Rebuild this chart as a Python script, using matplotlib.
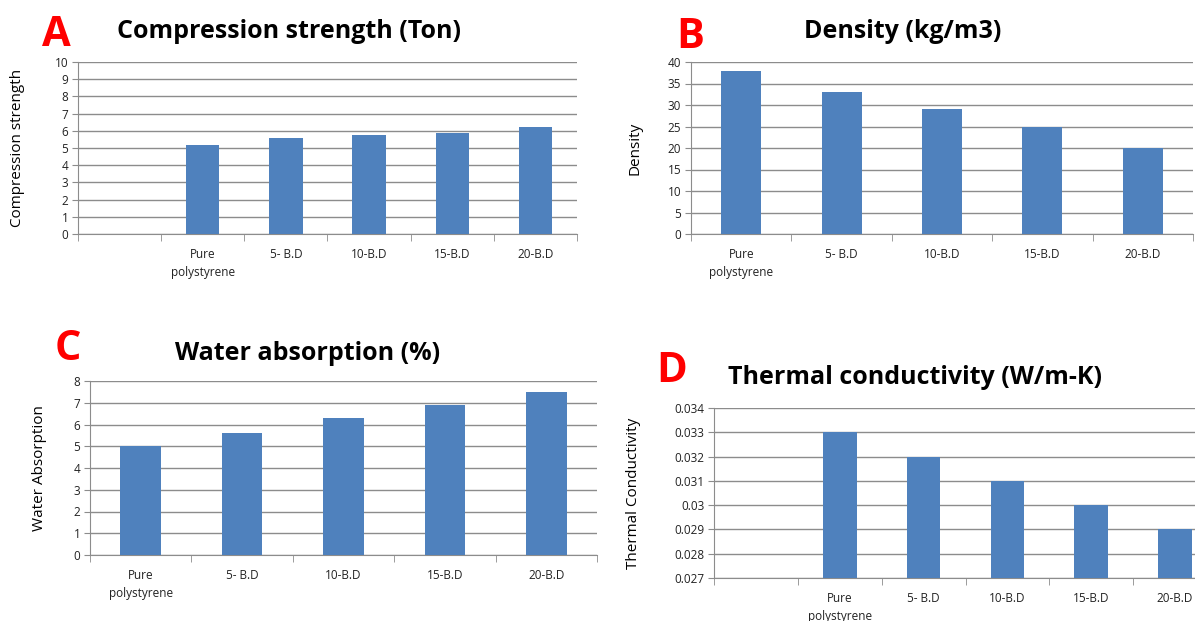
import numpy as np
import matplotlib
matplotlib.use("Agg")
import matplotlib.pyplot as plt

# data
cats_a = ["", "Pure\npolystyrene", "5- B.D", "10-B.D", "15-B.D", "20-B.D"]
compression = [np.nan, 5.2, 5.6, 5.75, 5.9, 6.25]

cats_b = ["Pure\npolystyrene", "5- B.D", "10-B.D", "15-B.D", "20-B.D"]
density = [38, 33, 29, 25, 20]

cats_c = ["Pure\npolystyrene", "5- B.D", "10-B.D", "15-B.D", "20-B.D"]
water = [5.0, 5.6, 6.3, 6.9, 7.5]

cats_d = ["", "Pure\npolystyrene", "5- B.D", "10-B.D", "15-B.D", "20-B.D"]
thermal = [np.nan, 0.033, 0.032, 0.031, 0.030, 0.029]

plt.rcParams["font.family"] = ["Open Sans", "DejaVu Sans"]
BLUE = "#4F81BD"
GRID = "#8c8c8c"
W, H = 1195, 621

fig = plt.figure(figsize=(W / 100, H / 100), dpi=100)


def panel(px, cats, vals, ylim, yticks, ylabel, label_x, ticklabels=None):
    # px = (left, top, right, bottom) in pixels
    l, t, r, b = px
    ax = fig.add_axes([l / W, 1 - b / H, (r - l) / W, (b - t) / H])
    x = np.arange(len(cats))
    ax.bar(x, vals, width=0.4, color=BLUE, zorder=3)
    ax.set_xlim(-0.5, len(cats) - 0.5)
    ax.set_ylim(*ylim)
    ax.set_yticks(yticks)
    if ticklabels is not None:
        ax.set_yticklabels(ticklabels)
    ax.set_xticks(x)
    ax.set_xticklabels(cats, fontsize=8.5, color="#222222", linespacing=1.5)
    ax.set_xticks(np.arange(len(cats) + 1) - 0.5, minor=True)
    ax.tick_params(axis="x", which="major", length=0, pad=10)
    ax.tick_params(axis="x", which="minor", length=5, color=GRID, direction="out")
    ax.tick_params(axis="y", length=4, color=GRID, labelsize=8.5, labelcolor="#222222", pad=3)
    ax.grid(axis="y", color=GRID, linewidth=1, zorder=0)
    for s in ["top", "right"]:
        ax.spines[s].set_visible(False)
    for s in ["left", "bottom"]:
        ax.spines[s].set_color(GRID)
    ax.set_ylabel(ylabel, fontsize=11)
    ax.yaxis.set_label_coords((label_x - l) / (r - l), 0.5)
    ax.yaxis.label.set_va("center")
    return ax


ax_a = panel((78, 62, 577, 234), cats_a, compression,
             (0, 10), range(0, 11), "Compression strength", 18)
ax_b = panel((691, 62, 1193, 234), cats_b, density,
             (0, 40), range(0, 41, 5), "Density", 635)
ax_c = panel((90, 381, 597, 555), cats_c, water,
             (0, 8), range(0, 9), "Water Absorption", 40)
d_ticks = [0.027, 0.028, 0.029, 0.030, 0.031, 0.032, 0.033, 0.034]
ax_d = panel((714, 408, 1217, 578), cats_d, thermal,
             (0.027, 0.034), d_ticks, "Thermal Conductivity", 633,
             ["0.027", "0.028", "0.029", "0.03", "0.031", "0.032", "0.033", "0.034"])

# titles and panel letters
titles = [(289, 31, "Compression strength (Ton)"),
          (903, 31, "Density (kg/m3)"),
          (308, 353, "Water absorption (%)"),
          (915, 377, "Thermal conductivity (W/m-K)")]
for tx, ty, txt in titles:
    fig.text(tx / W, 1 - ty / H, txt, ha="center", va="center",
             fontsize=18, fontweight="bold")

for lx, ly, letter in [(56, 35, "A"), (690, 38, "B"), (68, 350, "C"), (672, 371, "D")]:
    fig.text(lx / W, 1 - ly / H, letter, ha="center", va="center",
             fontsize=30, fontweight="bold", color="#ff0000")

fig.savefig("out.png", dpi=100)
